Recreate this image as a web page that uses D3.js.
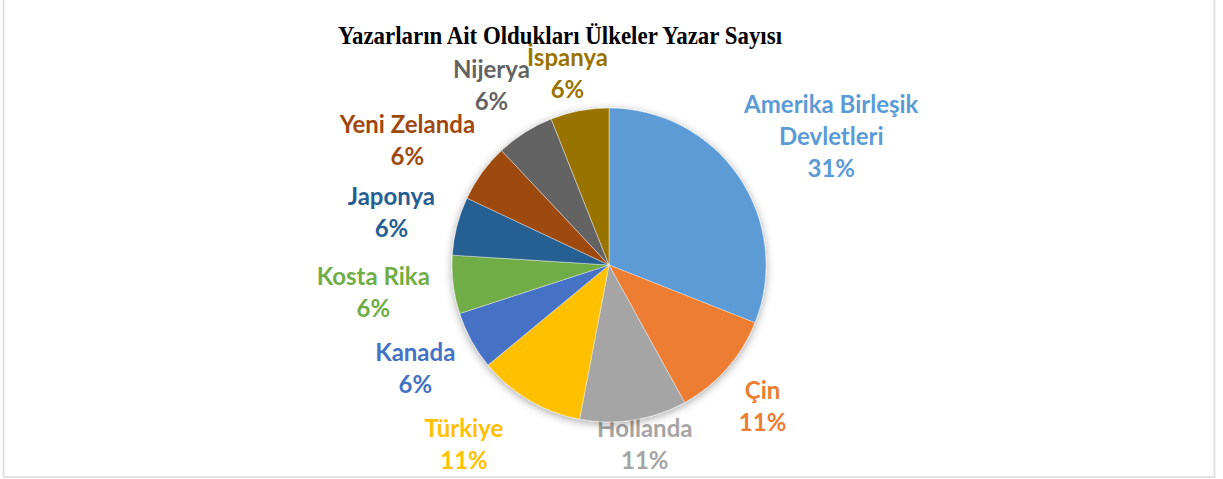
<!DOCTYPE html>
<html>
<head>
<meta charset="utf-8">
<script src="https://cdnjs.cloudflare.com/ajax/libs/d3/7.8.5/d3.min.js"></script>
<style>
  body { margin: 0; background: #fff; }
  svg { display: block; }
</style>
</head>
<body>
<div id="chart"></div>
<script>
// data
var countries = ["Amerika Birleşik Devletleri", "Çin", "Hollanda", "Türkiye", "Kanada",
                 "Kosta Rika", "Japonya", "Yeni Zelanda", "Nijerya", "İspanya"];
var labelLines = [["Amerika Birleşik", "Devletleri"], ["Çin"], ["Hollanda"], ["Türkiye"], ["Kanada"],
                  ["Kosta Rika"], ["Japonya"], ["Yeni Zelanda"], ["Nijerya"], ["İspanya"]];
var percents = [31, 11, 11, 11, 6, 6, 6, 6, 6, 6];
var colors = ["#5B9BD5", "#ED7D31", "#A5A5A5", "#FFC000", "#4472C4",
              "#70AD47", "#255E91", "#9E480E", "#636363", "#997300"];
var title = "Yazarların Ait Oldukları Ülkeler Yazar Sayısı";

var svgWidth = 1223;
var svgHeight = 479;

var cx = 609, cy = 265, radius = 157;
var lineHeight = 32;
var labelGap = 24;
var plotTop = 41, plotBottom = 476;

var svg = d3.select("#chart")
  .append("svg")
  .attr("width", svgWidth)
  .attr("height", svgHeight);

// chart frame
svg.append("rect")
  .attr("x", 3.5)
  .attr("y", -3)
  .attr("width", 1211)
  .attr("height", 480)
  .attr("fill", "#fff")
  .attr("stroke", "#d9d9d9")
  .attr("stroke-width", 1.5);

// soft shadow under the pie
var defs = svg.append("defs");
var shadow = defs.append("filter")
  .attr("id", "pieShadow")
  .attr("x", "-20%").attr("y", "-20%")
  .attr("width", "140%").attr("height", "140%");
shadow.append("feDropShadow")
  .attr("dx", 0).attr("dy", 2)
  .attr("stdDeviation", 4)
  .attr("flood-color", "#000")
  .attr("flood-opacity", 0.35);

// title
svg.append("text")
  .attr("x", 560)
  .attr("y", 44)
  .attr("text-anchor", "middle")
  .attr("font-family", "'Liberation Serif', 'Times New Roman', serif")
  .attr("font-weight", "bold")
  .attr("font-size", "26px")
  .attr("textLength", 444)
  .attr("lengthAdjust", "spacingAndGlyphs")
  .attr("fill", "#000")
  .text(title);

var data = countries.map(function(c, i) {
  return { country: c, lines: labelLines[i], value: percents[i], color: colors[i] };
});

var pie = d3.pie()
  .sort(null)
  .value(function(d) { return d.value; });

var arc = d3.arc()
  .innerRadius(0)
  .outerRadius(radius);

var arcs = pie(data);

// labels go under the pie (the Hollanda label is partly hidden by it)
var labelLayer = svg.append("g");
var pieGroup = svg.append("g")
  .attr("transform", "translate(" + cx + "," + cy + ")")
  .attr("filter", "url(#pieShadow)");

pieGroup.selectAll("path")
  .data(arcs)
  .enter()
  .append("path")
  .attr("d", arc)
  .attr("fill", function(d) { return d.data.color; })
  .attr("stroke", "#fff")
  .attr("stroke-width", 0.4);

var labels = labelLayer.selectAll("g.lbl")
  .data(arcs)
  .enter()
  .append("g")
  .attr("class", "lbl")
  .attr("fill", function(d) { return d.data.color; })
  .attr("font-family", "Lato, 'Open Sans', sans-serif")
  .attr("font-weight", "bold")
  .attr("font-size", "24px")
  .attr("text-anchor", "middle");

labels.each(function(d) {
  var g = d3.select(this);
  var lines = d.data.lines.concat([d.data.value + "%"]);
  lines.forEach(function(t, i) {
    g.append("text")
      .attr("x", 0)
      .attr("y", 25 + i * lineHeight)
      .text(t);
  });
  var w = this.getBBox().width;
  var h = lines.length * lineHeight;
  var R = radius + labelGap;
  var a = (d.startAngle + d.endAngle) / 2;
  var s = Math.sin(a), c = Math.cos(a);
  var mx = cx + s * R + s * w / 2;
  var my = cy - c * R - c * h / 2;

  // keep the label box inside the plot area; when it gets pushed,
  // slide it sideways so its inner corner stays off the pie
  var edgeY = null;
  if (my - h / 2 < plotTop) { my = plotTop + h / 2; edgeY = my + h / 2; }
  if (my + h / 2 > plotBottom) { my = plotBottom - h / 2; edgeY = my - h / 2; }
  if (edgeY !== null) {
    var dy = edgeY - cy;
    if (Math.abs(dy) < R) {
      var need = Math.sqrt(R * R - dy * dy);
      var side = mx < cx ? -1 : 1;
      var target = cx + side * (need + w / 2);
      if (Math.abs(target - mx) < 60 && Math.abs(target - cx) > Math.abs(mx - cx)) mx = target;
    }
  }
  g.attr("transform", "translate(" + mx + "," + (my - h / 2) + ")");
});
</script>
</body>
</html>
